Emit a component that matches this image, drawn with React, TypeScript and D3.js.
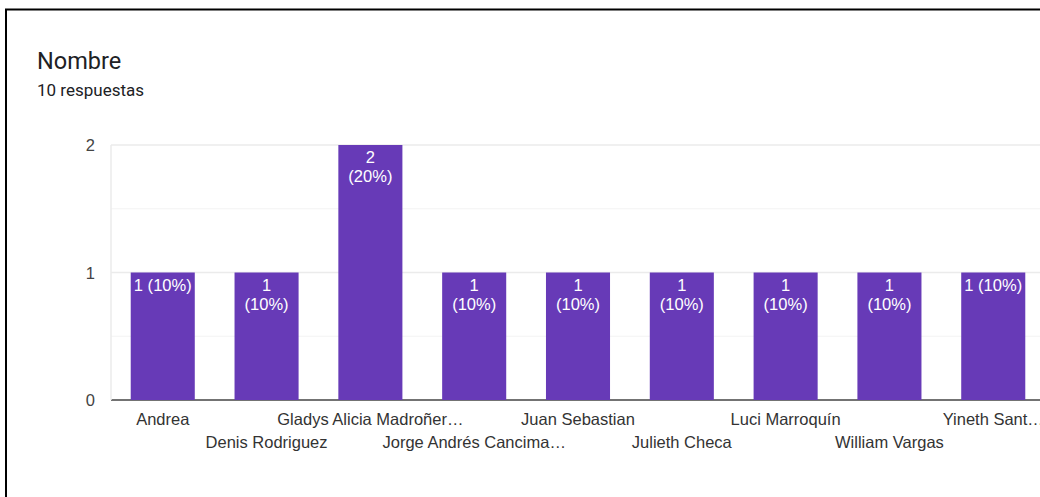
import React from "react";
import * as d3 from "d3";

const categories = [
  "Andrea",
  "Denis Rodriguez",
  "Gladys Alicia Madroñer…",
  "Jorge Andrés Cancima…",
  "Juan Sebastian",
  "Julieth Checa",
  "Luci Marroquín",
  "William Vargas",
  "Yineth Sant…",
];
const values = [1, 1, 2, 1, 1, 1, 1, 1, 1];
const percents = ["10%", "10%", "20%", "10%", "10%", "10%", "10%", "10%", "10%"];
const twoLine = [false, true, true, true, true, true, true, true, false];
const yTicks = [0, 1, 2];
const minorTicks = [0.5, 1.5];
const title = "Nombre";
const subtitle = "10 respuestas";

export default function App() {
  const W = 1040;
  const H = 497;
  const left = 111;
  const right = 1045;
  const top = 145;
  const bottom = 400;
  const x = d3.scaleBand<string>().domain(categories).range([left, right]).paddingInner(0.383).paddingOuter(0.19);
  const y = d3.scaleLinear().domain([0, 2]).range([bottom, top]);
  const font = "Arial, 'Liberation Sans', sans-serif";
  const fs = 16.5;
  return (
    <svg width={W} height={H} style={{ position: "absolute", left: 0, top: 0, background: "#fff" }}>
      <rect x={0} y={0} width={W} height={H} fill="#fff" />
      <path d={`M6,${H} L6,9.5 L${W},9.5`} fill="none" stroke="#000" strokeWidth={2} />
      <text x={37} y={69} fontFamily="Roboto, sans-serif" fontSize={23.5} fill="#202124">{title}</text>
      <text x={37} y={96} fontFamily="Roboto, sans-serif" fontSize={17} fill="#202124">{subtitle}</text>
      {minorTicks.map((t) => (
        <line key={"m" + t} x1={left} x2={W} y1={y(t)} y2={y(t)} stroke="#f3f3f3" strokeWidth={1} />
      ))}
      {yTicks.map((t) => (
        <line key={"g" + t} x1={left} x2={W} y1={y(t)} y2={y(t)} stroke={t === 0 ? "#444" : "#ebebeb"} strokeWidth={1.5} />
      ))}
      <line x1={left} x2={left} y1={top} y2={bottom} stroke="#ebebeb" strokeWidth={1.5} />
      {yTicks.map((t) => (
        <text key={"yt" + t} x={95} y={y(t) + 6} textAnchor="end" fontFamily={font} fontSize={fs} fill="#444">{t}</text>
      ))}
      {categories.map((c, i) => {
        const bx = x(c)!;
        const bw = x.bandwidth();
        const cx = bx + bw / 2;
        const yTop = y(values[i]);
        return (
          <g key={c}>
            <rect x={bx} y={yTop} width={bw} height={bottom - yTop} fill="#673ab7" />
            {twoLine[i] ? (
              <>
                <text x={cx} y={yTop + 18} textAnchor="middle" fontFamily={font} fontSize={fs} fill="#fff">{values[i]}</text>
                <text x={cx} y={yTop + 37} textAnchor="middle" fontFamily={font} fontSize={fs} fill="#fff">({percents[i]})</text>
              </>
            ) : (
              <text x={cx} y={yTop + 18} textAnchor="middle" fontFamily={font} fontSize={fs} fill="#fff">{values[i]} ({percents[i]})</text>
            )}
            <text x={cx} y={i % 2 === 0 ? 425 : 448} textAnchor="middle" fontFamily={font} fontSize={fs} fill="#333">{c}</text>
          </g>
        );
      })}
    </svg>
  );
}
